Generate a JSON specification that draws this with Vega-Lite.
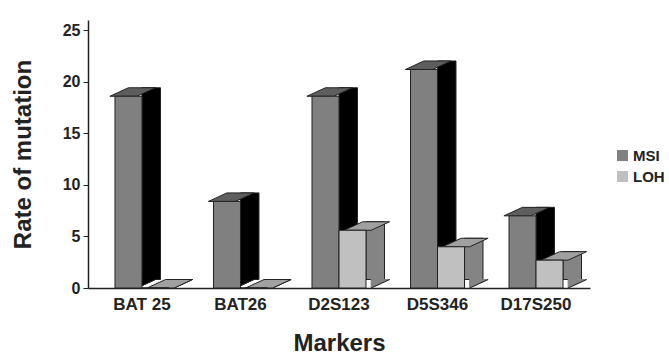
{
  "$schema": "https://vega.github.io/schema/vega-lite/v6.json",
  "width": 502,
  "height": 268,
  "autosize": {"type": "none"},
  "padding": {"left": 88, "top": 20, "right": 79, "bottom": 68},
  "config": {
    "view": {"stroke": null},
    "font": "Liberation Sans",
    "axisY": {
      "grid": false,
      "values": [0, 5, 10, 15, 20, 25],
      "domainColor": "#222",
      "domainWidth": 1.5,
      "tickColor": "#222",
      "tickSize": 5,
      "labelFont": "Liberation Sans",
      "labelFontWeight": "bold",
      "labelFontSize": 16,
      "labelColor": "#222",
      "labelPadding": 3,
      "titleFont": "Liberation Sans",
      "titleFontWeight": "bold",
      "titleFontSize": 24,
      "titleColor": "#222",
      "titlePadding": 27
    }
  },
  "data": {
    "values": [
      {"marker": "BAT 25", "series": "MSI", "value": 18.6},
      {"marker": "BAT 25", "series": "LOH", "value": 0},
      {"marker": "BAT26", "series": "MSI", "value": 8.4},
      {"marker": "BAT26", "series": "LOH", "value": 0},
      {"marker": "D2S123", "series": "MSI", "value": 18.6},
      {"marker": "D2S123", "series": "LOH", "value": 5.6},
      {"marker": "D5S346", "series": "MSI", "value": 21.2},
      {"marker": "D5S346", "series": "LOH", "value": 4.0},
      {"marker": "D17S250", "series": "MSI", "value": 7.0},
      {"marker": "D17S250", "series": "LOH", "value": 2.7}
    ]
  },
  "encoding": {
    "x": {
      "field": "marker",
      "type": "nominal",
      "sort": ["BAT 25", "BAT26", "D2S123", "D5S346", "D17S250"],
      "scale": {"paddingInner": 0, "paddingOuter": 0.048},
      "axis": {
        "title": "Markers",
        "labelAngle": 0,
        "ticks": false,
        "domainColor": "#222",
        "domainWidth": 1.5,
        "labelFont": "Liberation Sans",
        "labelFontWeight": "bold",
        "labelFontSize": 17,
        "labelColor": "#222",
        "labelPadding": 8,
        "titleFont": "Liberation Sans",
        "titleFontWeight": "bold",
        "titleFontSize": 24,
        "titleColor": "#222",
        "titlePadding": 19
      }
    }
  },
  "resolve": {"scale": {"xOffset": "independent"}},
  "layer": [
    {
      "mark": {"type": "bar", "width": {"band": 1}, "yOffset": -8.5, "y2Offset": -8.5, "stroke": "#222", "strokeWidth": 1},
      "encoding": {
        "xOffset": {
          "field": "series",
          "type": "nominal",
          "sort": ["MSI", "LOH"],
          "scale": {"paddingInner": 0.315, "paddingOuter": 0.981, "align": 0.929}
        },
        "y": {"field": "value", "type": "quantitative", "scale": {"domain": [0, 25]}, "title": "Rate of mutation"},
        "fill": {"condition": {"test": "datum.series === 'MSI'", "value": "#000000"}, "value": "#848484"}
      }
    },
    {
      "mark": {"type": "point", "shape": "M13.5,0 L13.5,-8.5 L32,-8.5 Z", "size": 4, "filled": true, "opacity": 1, "strokeWidth": 1},
      "encoding": {
        "xOffset": {"field": "series", "type": "nominal", "sort": ["MSI", "LOH"], "scale": {"paddingInner": 0, "paddingOuter": 0.824}},
        "y": {"datum": 0, "type": "quantitative", "title": "Rate of mutation"},
        "fill": {"condition": {"test": "datum.series === 'MSI'", "value": "#000000"}, "value": "#848484"},
        "stroke": {"condition": {"test": "datum.series === 'MSI'", "value": "#000000"}, "value": "#848484"}
      }
    },
    {
      "mark": {"type": "point", "shape": "M13.5,0 L32,-8.5", "size": 4, "filled": false, "opacity": 1, "stroke": "#222", "strokeWidth": 1},
      "encoding": {
        "xOffset": {"field": "series", "type": "nominal", "sort": ["MSI", "LOH"], "scale": {"paddingInner": 0, "paddingOuter": 0.824}},
        "y": {"datum": 0, "type": "quantitative", "title": "Rate of mutation"}
      }
    },
    {
      "mark": {"type": "point", "shape": "M-13.5,0 L13.5,0 L32,-8.5 L5,-8.5 Z", "size": 4, "filled": true, "opacity": 1, "stroke": "#222", "strokeWidth": 1},
      "encoding": {
        "xOffset": {"field": "series", "type": "nominal", "sort": ["MSI", "LOH"], "scale": {"paddingInner": 0, "paddingOuter": 0.824}},
        "y": {"field": "value", "type": "quantitative", "title": "Rate of mutation"},
        "fill": {"condition": {"test": "datum.series === 'MSI'", "value": "#5e5e5e"}, "value": "#a0a0a0"}
      }
    },
    {
      "mark": {"type": "bar", "width": {"band": 1}, "stroke": "#222", "strokeWidth": 1},
      "encoding": {
        "xOffset": {"field": "series", "type": "nominal", "sort": ["MSI", "LOH"], "scale": {"paddingInner": 0, "paddingOuter": 0.824}},
        "y": {"field": "value", "type": "quantitative", "title": "Rate of mutation"},
        "color": {
          "field": "series",
          "type": "nominal",
          "sort": ["MSI", "LOH"],
          "scale": {"domain": ["MSI", "LOH"], "range": ["#808080", "#c0c0c0"]},
          "legend": {
            "title": null,
            "orient": "none",
            "legendX": 527,
            "legendY": 128,
            "padding": 0,
            "symbolType": "square",
            "symbolSize": 121,
            "symbolStrokeWidth": 0,
            "symbolOpacity": 1,
            "labelFont": "Liberation Sans",
            "labelFontWeight": "bold",
            "labelFontSize": 15,
            "labelColor": "#222",
            "labelOffset": 3,
            "rowPadding": 5
          }
        }
      }
    }
  ]
}
